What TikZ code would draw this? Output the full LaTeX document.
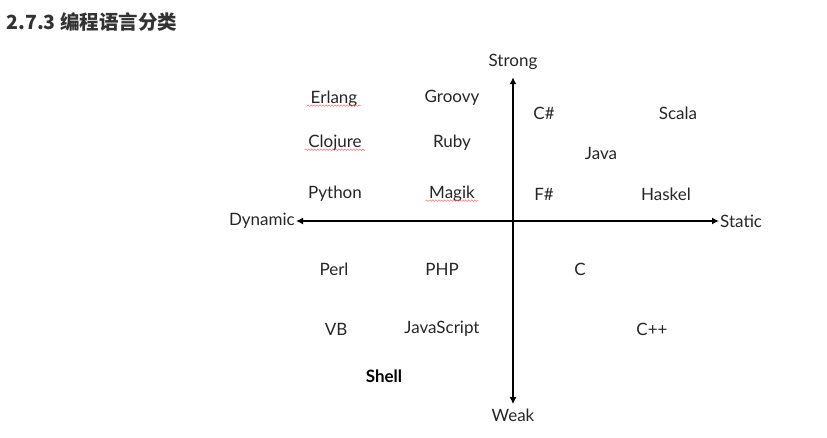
\documentclass[tikz,border=0pt]{standalone}
\usepackage{fontspec}
\setmainfont{Lato}
\newfontfamily\cjk{Noto Sans CJK SC}
\usetikzlibrary{arrows.meta,decorations.pathmorphing}
\begin{document}
\begin{tikzpicture}[x = 1pt, y = -1pt,
    lang/.style = {font = \fontsize{17}{17}\selectfont, text = black!85},
    axis/.style = {line width = 1.8pt, {Latex[length = 7pt, width = 7pt]}-{Latex[length = 7pt, width = 7pt]}},
    squiggle/.style = {red!55, line width = 0.5pt, decorate, decoration = {snake, amplitude = 0.8pt, segment length = 3pt}}]
      \useasboundingbox (0, 0) rectangle (827, 438);
      \node [anchor = west, font = \cjk\bfseries\fontsize{19.5}{19.5}\selectfont, text = black!80] (title) at (3, 22) {2.7.3 编程语言分类};
      % axes
      \node [lang] (strong) at (513, 62) {Strong};
      \node [lang] (weak) at (513, 415) {Weak};
      \node [lang, anchor = east, inner sep = 1pt] (dynamic) at (296, 221) {Dynamic};
      \node [lang, anchor = west, inner sep = 1pt] (static) at (719, 221) {Static};
      \draw [axis] (dynamic.east) -- (static.west);
      \draw [axis, shorten < = 4pt, shorten > = 1pt] (strong.south) -- (weak.north);
      % languages
      \node [lang] (erlang) at (334, 99) {Erlang};
      \node [lang] (groovy) at (452, 98) {Groovy};
      \node [lang] (csharp) at (544, 113) {C\#};
      \node [lang] (scala) at (678, 113) {Scala};
      \node [lang] (clojure) at (335, 143) {Clojure};
      \node [lang] (ruby) at (452, 143) {Ruby};
      \node [lang] (java) at (601, 153) {Java};
      \node [lang] (python) at (335, 194) {Python};
      \node [lang] (magik) at (452, 194) {Magik};
      \node [lang] (fsharp) at (544, 194) {F\#};
      \node [lang] (haskel) at (666, 194) {Haskel};
      \node [lang] (perl) at (334, 269) {Perl};
      \node [lang] (php) at (442, 269) {PHP};
      \node [lang] (c) at (580, 269) {C};
      \node [lang] (vb) at (336, 329) {VB};
      \node [lang] (js) at (442, 329) {JavaScript};
      \node [lang] (cpp) at (652, 329) {C++};
      \node [lang, font = \bfseries\fontsize{17}{17}\selectfont, text = black] (shell) at (384, 376) {Shell};
      % spell-check marks
      \draw [squiggle] ([yshift = -2pt] erlang.base west) -- ([yshift = -2pt] erlang.base east);
      \draw [squiggle] ([yshift = -2pt] clojure.base west) -- ([yshift = -2pt] clojure.base east);
      \draw [squiggle] ([yshift = -2pt] magik.base west) -- ([yshift = -2pt] magik.base east);
    \end{tikzpicture}
\end{document}
